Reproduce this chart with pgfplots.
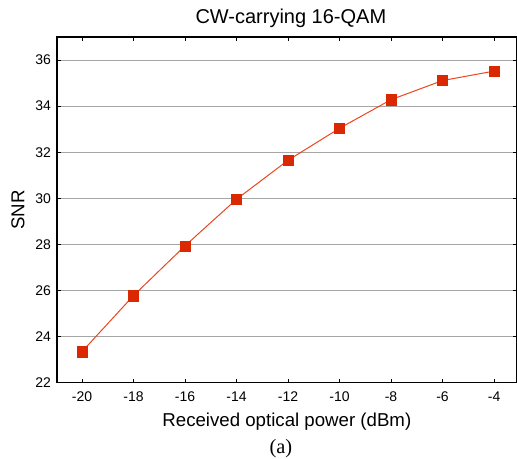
\documentclass[border=0pt]{standalone}
\usepackage{pgfplots}
\pgfplotsset{compat=1.18}
\usepackage{fontspec}
\setmainfont{Liberation Sans}
\newfontfamily\seriffont{Liberation Serif}
\definecolor{mk}{RGB}{218,40,0}
\definecolor{ln}{RGB}{235,70,30}
\begin{document}
\begin{tikzpicture}[x=1pt,y=1pt]
\useasboundingbox (-42.75,-57) rectangle (345.2,287.25);
\begin{axis}[
  at={(0,0)}, anchor=south west,
  scale only axis, width=345pt, height=259.5pt,
  xmin=-20.97, xmax=-3.12, ymin=22, ymax=37,
  xtick={-20,-18,...,-4}, ytick={22,24,...,36},
  tick align=inside, major tick length=3pt,
  tick style={black, line width=0.6pt},
  axis line style={black, line width=0.9pt},
  ymajorgrids, grid style={gray!70, line width=0.6pt},
  /pgf/number format/assume math mode=true,
  ticklabel style={font=\fontsize{10.5}{12}\selectfont},
  xticklabel style={yshift=-3pt},
  yticklabel style={xshift=-1pt},
  xlabel={Received optical power (dBm)},
  ylabel={SNR},
  xlabel style={font=\fontsize{14}{16}\selectfont, at={(axis description cs:0.5,0)}, anchor=center, yshift=-29pt},
  ylabel style={font=\fontsize{14}{16}\selectfont, at={(axis description cs:0,0.5)}, anchor=center, rotate=0, xshift=0pt, yshift=29.25pt},
]
\addplot[color=ln, line width=0.75pt, mark=square*, mark size=3.8pt, mark options={fill=mk, draw=mk, line width=0.3pt}]
coordinates {
(-20,23.35) (-18,25.78) (-16,27.94) (-14,29.96) (-12,31.65) (-10,33.04) (-8,34.28) (-6,35.11) (-4,35.52)
};
\end{axis}
\node[font=\fontsize{15}{17}\selectfont, anchor=center] at (175.5,273.5) {CW-carrying 16-QAM};
\node[font=\seriffont\fontsize{15.3}{17}\selectfont, anchor=center] at (168,-49) {(a)};
\end{tikzpicture}
\end{document}
